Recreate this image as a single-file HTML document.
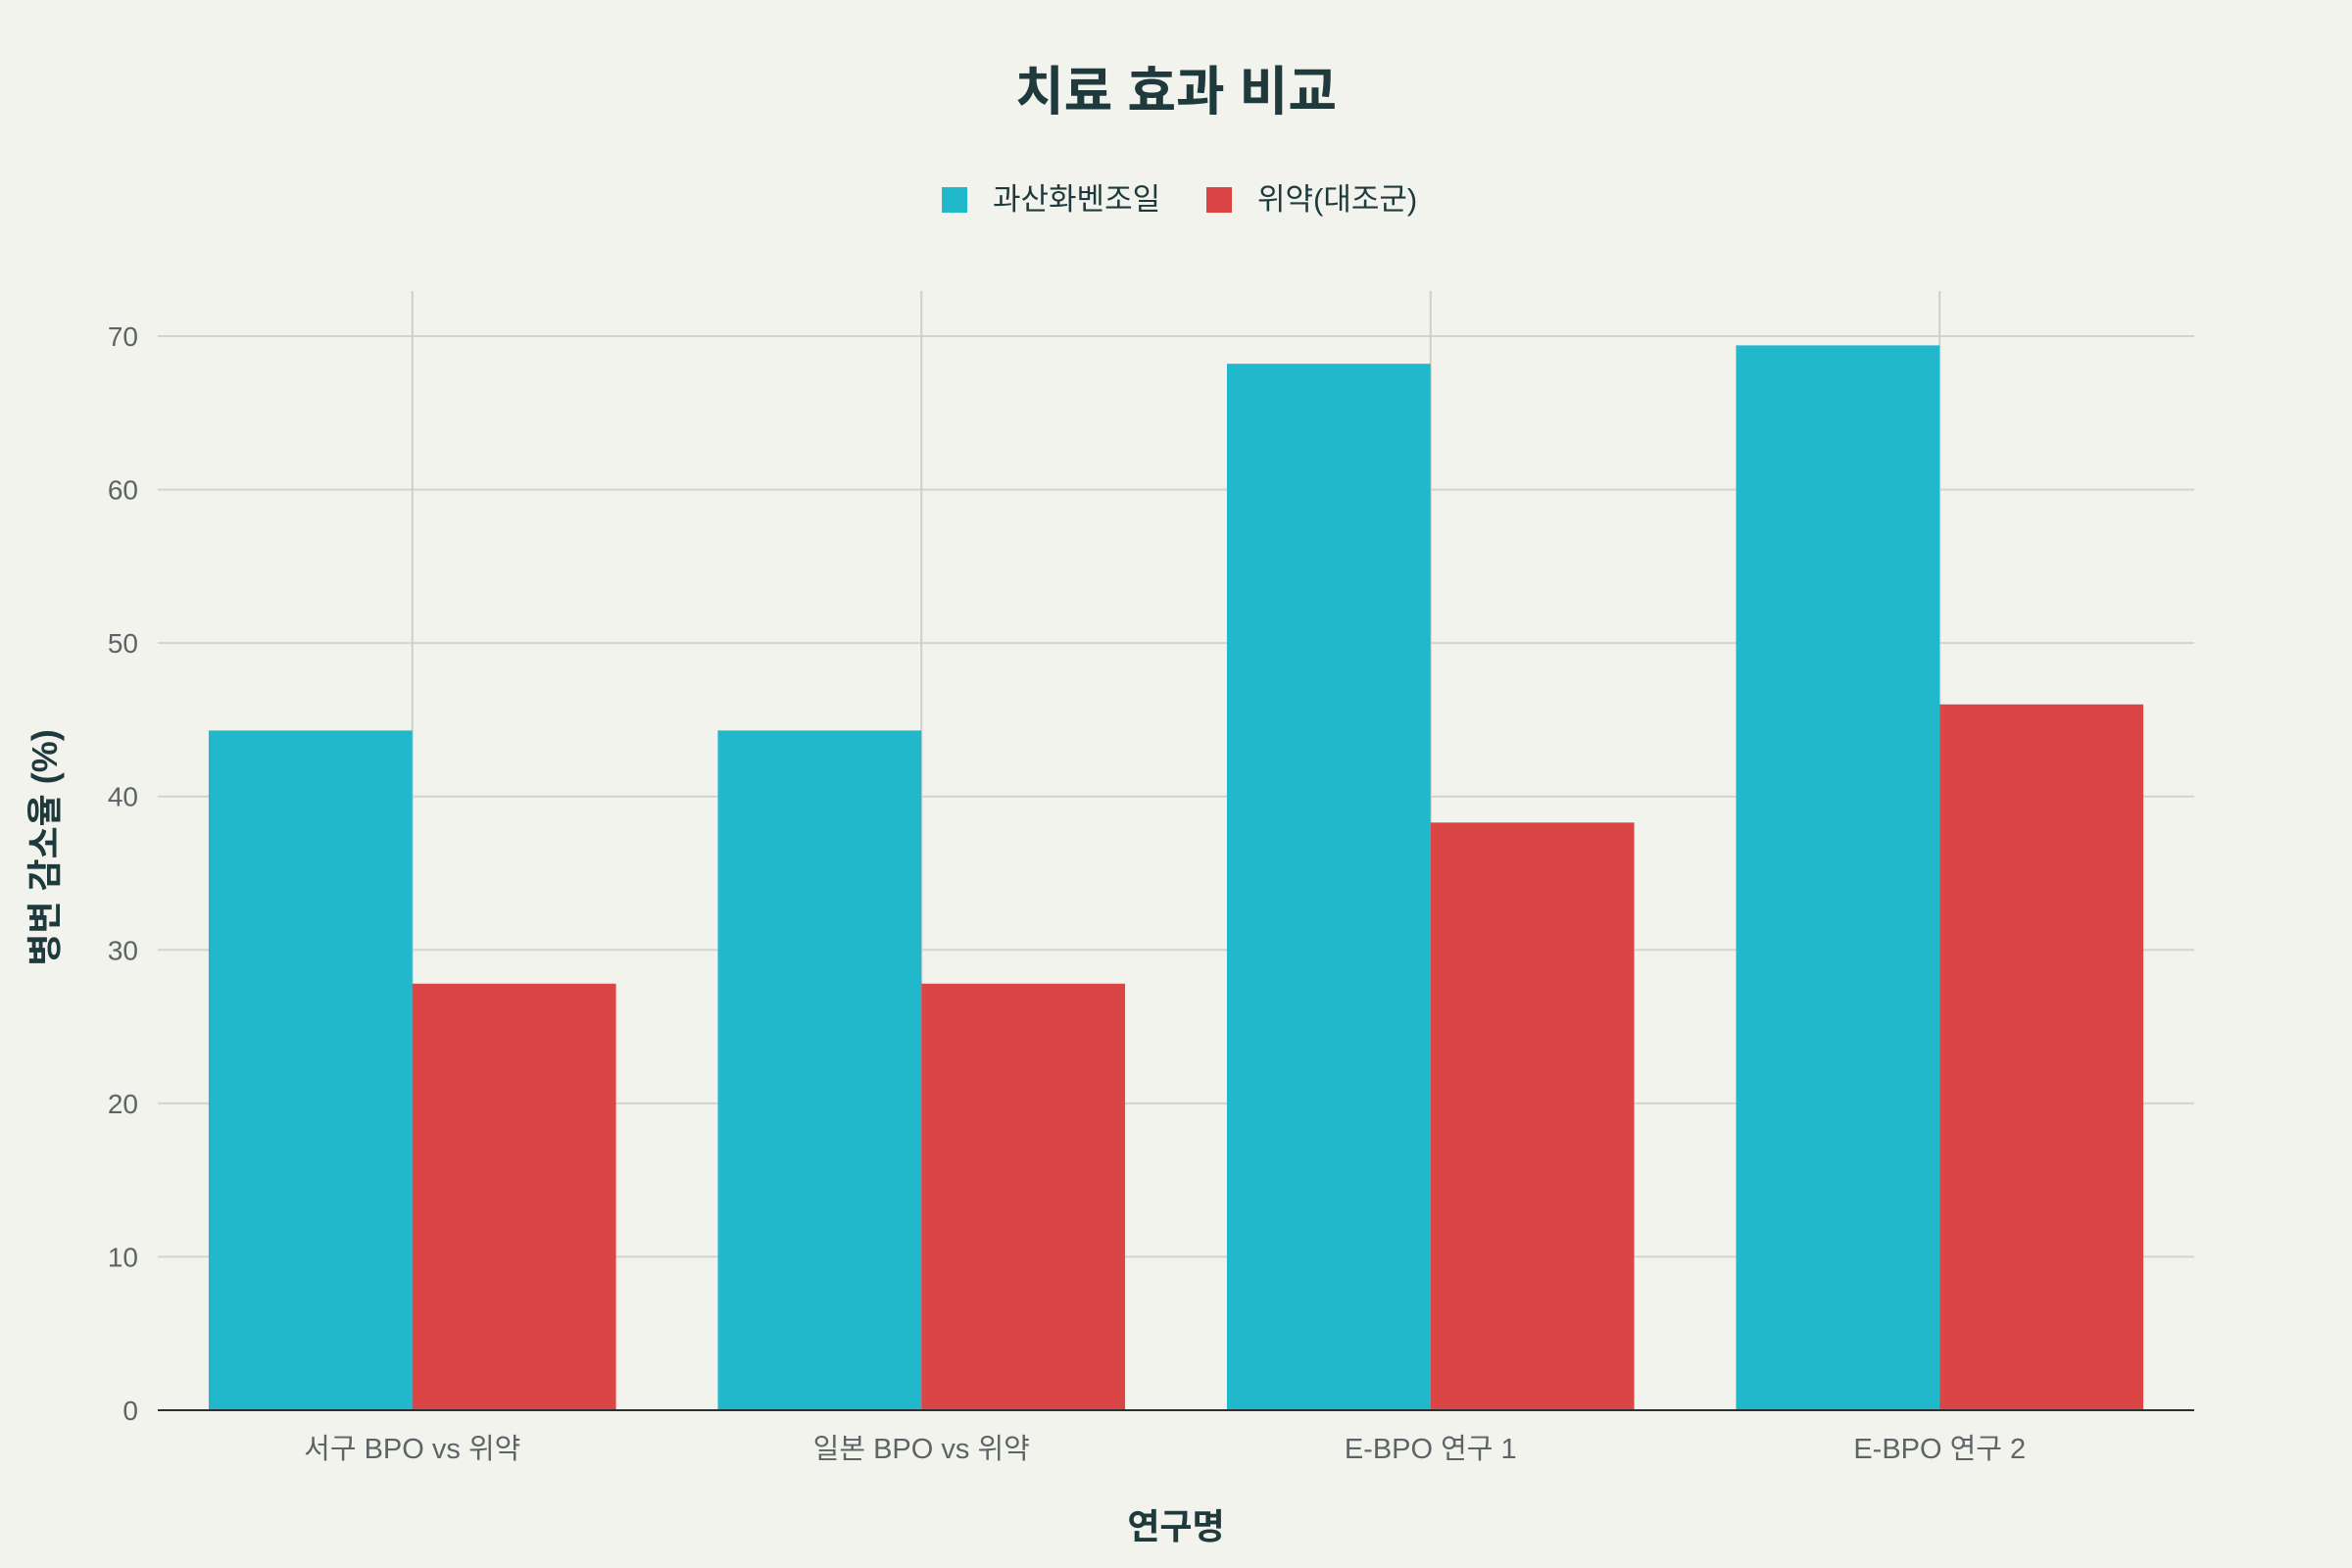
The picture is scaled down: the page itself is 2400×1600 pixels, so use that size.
<!DOCTYPE html>
<html><head><meta charset="utf-8">
<style>
html,body{margin:0;padding:0;background:#f3f3ee;}
svg{display:block;font-family:"Liberation Sans","Noto Sans CJK KR",sans-serif;}
</style></head>
<body>
<svg id="chart" width="2400" height="1600" viewBox="0 0 2400 1600" xmlns="http://www.w3.org/2000/svg">
<rect width="2400" height="1600" fill="#f3f3ee"/>
<text x="1200" y="112" text-anchor="middle" font-size="54" font-weight="bold" fill="#1f3a3d">치료 효과 비교</text>
<g>
<rect x="961" y="191" width="26" height="26" fill="#21b8cc"/>
<text x="1013" y="214" font-size="31" fill="#1f3a3d">과산화벤조일</text>
<rect x="1231" y="191" width="26" height="26" fill="#db4545"/>
<text x="1283" y="214" font-size="31" fill="#1f3a3d">위약(대조군)</text>
</g>
<g id="grid"></g>
<g id="bars"></g>
<g id="axes"></g>
<text x="1200" y="1570" text-anchor="middle" font-size="36" font-weight="bold" fill="#1f3a3d">연구명</text>
<text transform="translate(58,865) rotate(-90)" text-anchor="middle" font-size="36" font-weight="bold" fill="#1f3a3d">병변 감소율 (%)</text>
</svg>
<script>
const categories = ["서구 BPO vs 위약","일본 BPO vs 위약","E-BPO 연구 1","E-BPO 연구 2"];
const bpoValues = [44.3, 44.3, 68.2, 69.4];
const placeboValues = [27.8, 27.8, 38.3, 46.0];
const yTicks = [0,10,20,30,40,50,60,70];

const NS="http://www.w3.org/2000/svg";
const plotLeft=161, plotRight=2239, plotTop=297, plotBase=1439, y70=343;
const yScale=v=>plotBase-(plotBase-y70)*v/70;
const band=(plotRight-plotLeft)/categories.length;
const xCenter=i=>plotLeft+band*(i+0.5);
const barW=band*0.4;
function mk(tag,attrs,parent){const e=document.createElementNS(NS,tag);for(const k in attrs)e.setAttribute(k,attrs[k]);parent.appendChild(e);return e;}
const gridG=document.getElementById('grid'),barsG=document.getElementById('bars'),axesG=document.getElementById('axes');
yTicks.forEach(t=>{
  const y=yScale(t);
  if(t>0){const l=mk('line',{x1:plotLeft,x2:plotRight,y1:y,y2:y,stroke:'#d4d4cf','stroke-width':2},gridG);
  
  }
  const tx=mk('text',{x:plotLeft-20,y:y+10,'text-anchor':'end','font-size':28,fill:'#5d6466'},axesG);
  tx.textContent=t;
  
  
});
categories.forEach((c,i)=>{
  const x=xCenter(i);
  const g=mk('line',{x1:x,x2:x,y1:plotTop,y2:plotBase,stroke:'#cfcfca','stroke-width':2},gridG);
  
  
  const b1=mk('rect',{x:x-barW,y:yScale(bpoValues[i]),width:barW,height:plotBase-yScale(bpoValues[i]),fill:'#21b8cc'},barsG);
  
  
  const b2=mk('rect',{x:x,y:yScale(placeboValues[i]),width:barW,height:plotBase-yScale(placeboValues[i]),fill:'#db4545'},barsG);
  
  
  const t=mk('text',{x:x,y:1488,'text-anchor':'middle','font-size':29,fill:'#5d6466'},axesG);
  t.textContent=c;
  
  
});
const ax=mk('line',{x1:plotLeft,x2:plotRight,y1:plotBase,y2:plotBase,stroke:'#2b2f30','stroke-width':2},axesG);


</script>
</body></html>
